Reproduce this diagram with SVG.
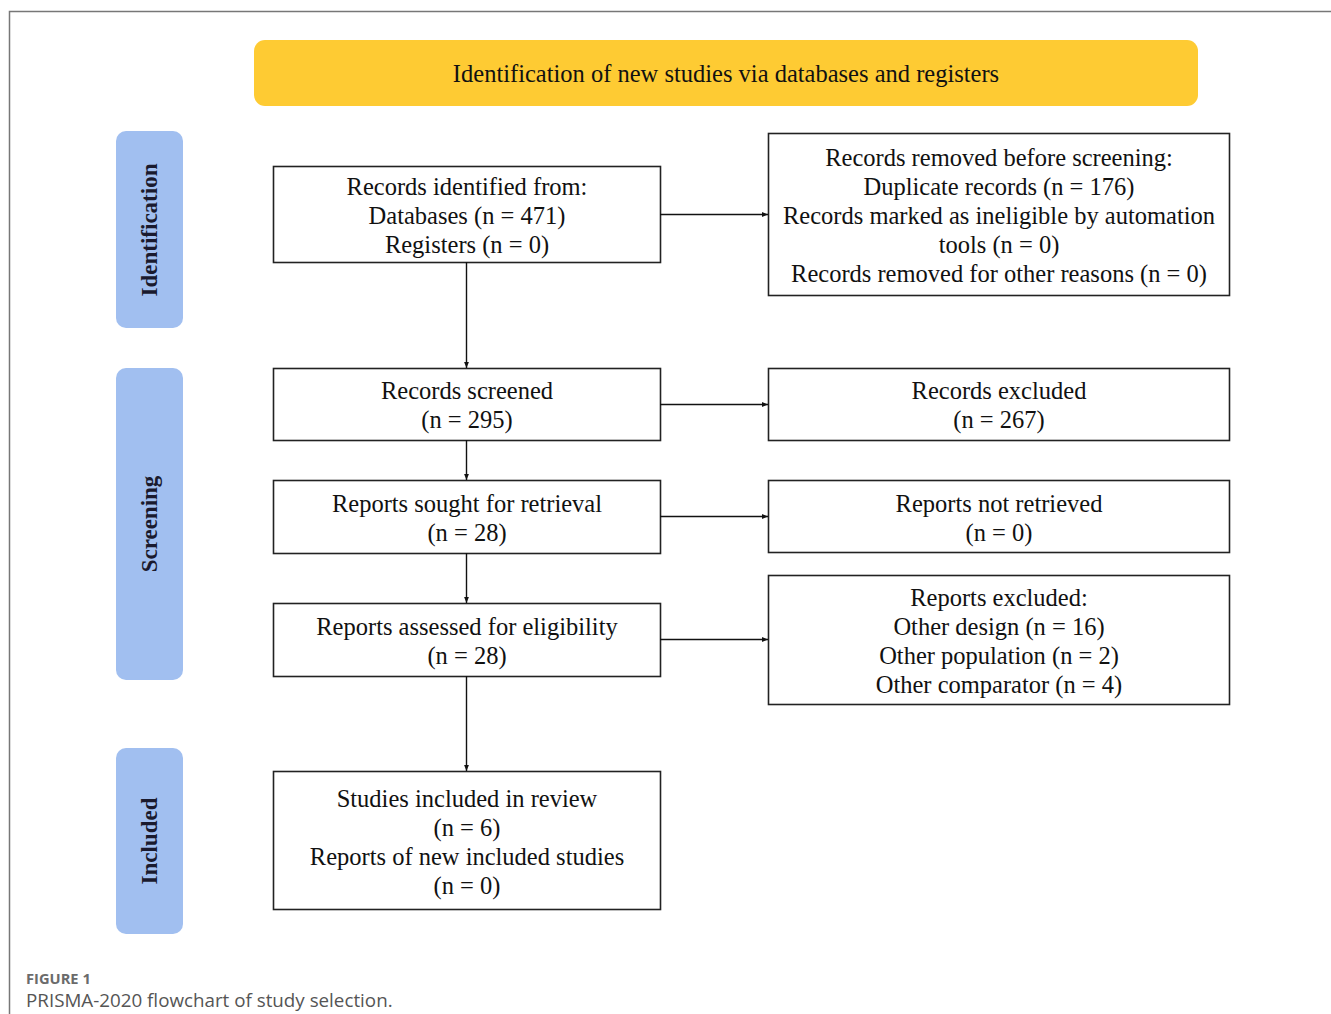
<svg xmlns="http://www.w3.org/2000/svg" width="1331" height="1014" viewBox="0 0 1331 1014">
<defs>
<style>
.box{fill:#fff;stroke:#222;stroke-width:1.6}
.t{font-family:"Liberation Serif","Times New Roman",serif;font-size:24.5px;fill:#111;text-anchor:middle}
.side{fill:#a1bff0}
.st{font-family:"Liberation Serif","Times New Roman",serif;font-size:23px;font-weight:bold;fill:#1a1a2e;text-anchor:middle}
.c{stroke:#111;stroke-width:1.4;fill:none;marker-end:url(#ah)}
</style>
<marker id="ah" viewBox="0 0 10 10" refX="10" refY="5" markerWidth="6" markerHeight="6" orient="auto" markerUnits="userSpaceOnUse"><path d="M0,1 L10,5 L0,9 z" fill="#111"/></marker>
</defs>
<rect width="1331" height="1014" fill="#fff"/>
<path d="M1331,11.5 H9.5 V1014" fill="none" stroke="#777" stroke-width="1.5"/>
<g id="header"><rect x="254" y="40" width="944" height="66" rx="11" fill="#fecb33"/><text class="t" x="726" y="82">Identification of new studies via databases and registers</text></g>
<g id="stage-identification"><rect class="side" x="116" y="131" width="67" height="197" rx="10"/><text class="st" transform="translate(157,230) rotate(-90)">Identification</text></g>
<g id="stage-screening"><rect class="side" x="116" y="368" width="67" height="312" rx="10"/><text class="st" transform="translate(157,524) rotate(-90)">Screening</text></g>
<g id="stage-included"><rect class="side" x="116" y="748" width="67" height="186" rx="10"/><text class="st" transform="translate(157,841) rotate(-90)">Included</text></g>
<g id="identified"><rect class="box" x="273.5" y="166.5" width="387" height="96"/><text class="t" x="467" y="195">Records identified from:</text><text class="t" x="467" y="224">Databases (n = 471)</text><text class="t" x="467" y="253">Registers (n = 0)</text></g>
<g id="removed"><rect class="box" x="768.5" y="133.5" width="461" height="162"/><text class="t" x="999" y="166">Records removed before screening:</text><text class="t" x="999" y="195">Duplicate records (n = 176)</text><text class="t" x="999" y="224">Records marked as ineligible by automation</text><text class="t" x="999" y="253">tools (n = 0)</text><text class="t" x="999" y="282">Records removed for other reasons (n = 0)</text></g>
<g id="screened"><rect class="box" x="273.5" y="368.5" width="387" height="72"/><text class="t" x="467" y="399">Records screened</text><text class="t" x="467" y="428">(n = 295)</text></g>
<g id="excluded"><rect class="box" x="768.5" y="368.5" width="461" height="72"/><text class="t" x="999" y="399">Records excluded</text><text class="t" x="999" y="428">(n = 267)</text></g>
<g id="sought"><rect class="box" x="273.5" y="480.5" width="387" height="73"/><text class="t" x="467" y="512">Reports sought for retrieval</text><text class="t" x="467" y="541">(n = 28)</text></g>
<g id="not-retrieved"><rect class="box" x="768.5" y="480.5" width="461" height="72"/><text class="t" x="999" y="512">Reports not retrieved</text><text class="t" x="999" y="541">(n = 0)</text></g>
<g id="assessed"><rect class="box" x="273.5" y="603.5" width="387" height="73"/><text class="t" x="467" y="635">Reports assessed for eligibility</text><text class="t" x="467" y="664">(n = 28)</text></g>
<g id="reports-excluded"><rect class="box" x="768.5" y="575.5" width="461" height="129"/><text class="t" x="999" y="606">Reports excluded:</text><text class="t" x="999" y="635">Other design (n = 16)</text><text class="t" x="999" y="664">Other population (n = 2)</text><text class="t" x="999" y="693">Other comparator (n = 4)</text></g>
<g id="included"><rect class="box" x="273.5" y="771.5" width="387" height="138"/><text class="t" x="467" y="807">Studies included in review</text><text class="t" x="467" y="836">(n = 6)</text><text class="t" x="467" y="865">Reports of new included studies</text><text class="t" x="467" y="894">(n = 0)</text></g>
<g id="connectors">
<path class="c" d="M466.5,262 V368"/>
<path class="c" d="M466.5,440 V480"/>
<path class="c" d="M466.5,553 V603"/>
<path class="c" d="M466.5,676 V771"/>
<path class="c" d="M660,214.5 H768"/>
<path class="c" d="M660,404.5 H768"/>
<path class="c" d="M660,516.5 H768"/>
<path class="c" d="M660,639.5 H768"/>
</g>
<g id="caption"><text x="26" y="984" font-family="'Open Sans',sans-serif" font-size="14.7" font-weight="bold" fill="#6b6b6b">FIGURE 1</text><text x="26" y="1007" font-family="'Open Sans',sans-serif" font-size="18.8" fill="#555">PRISMA-2020 flowchart of study selection.</text></g>
</svg>
